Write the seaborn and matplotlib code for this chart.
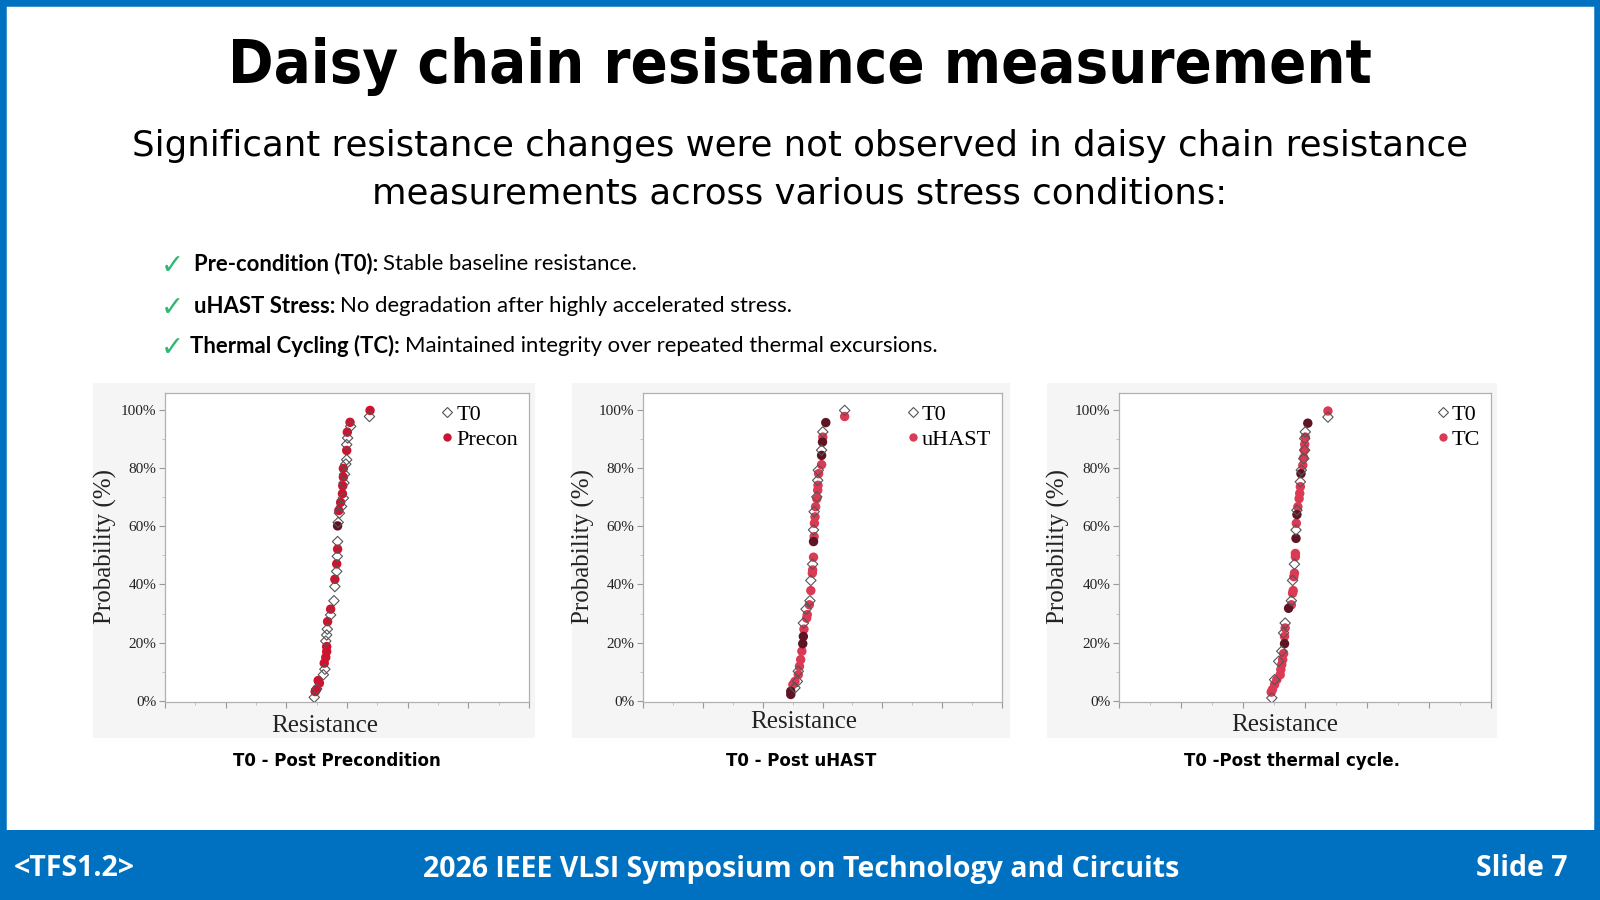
import seaborn as sns
import matplotlib.pyplot as plt
import pandas as pd
from matplotlib.patches import Rectangle
from matplotlib.lines import Line2D
from matplotlib.ticker import MultipleLocator, FuncFormatter

# Panel 1: T0 vs Precon (resistance in arbitrary units, cumulative probability in %)
p1_t0_x = [4.92, 5.00, 5.22, 5.27, 5.30, 5.33, 5.35, 5.46, 5.57, 5.60, 5.66, 5.68, 5.69, 5.71,
           5.75, 5.82, 5.88, 5.90, 5.92, 5.96, 5.99, 5.99, 6.02, 6.12, 6.74]
p1_t0_y = [1.1, 4.0, 8.9, 10.8, 20.5, 22.6, 24.6, 29.5, 34.4, 39.3, 44.5, 49.7, 54.8, 61.4,
           64.6, 66.9, 69.8, 75.0, 78.0, 81.5, 83.0, 88.2, 90.5, 94.5, 97.9]
p1_st_x = [4.95, 5.00, 5.09, 5.05, 5.25, 5.30, 5.33, 5.33, 5.36, 5.46, 5.60, 5.66, 5.69,
           5.73, 5.79, 5.85, 5.86, 5.88, 5.88, 5.99, 6.01, 6.10, 6.76]
p1_st_y = [3.1, 3.9, 6.0, 6.9, 12.9, 14.9, 16.9, 18.6, 27.2, 31.5, 41.8, 47.1, 52.2,
           65.5, 68.3, 71.3, 74.0, 77.0, 80.0, 86.2, 92.5, 95.9, 100.0]
p1_dk_x = [5.69]
p1_dk_y = [60.2]

# Panel 2: T0 vs uHAST
p2_t0_x = [5.08, 5.16, 5.19, 5.36, 5.45, 5.58, 5.61, 5.67, 5.70, 5.72, 5.81, 5.84, 5.86,
           5.97, 6.01, 6.74]
p2_t0_y = [4.4, 6.6, 10.1, 26.7, 31.5, 34.4, 41.4, 47.0, 58.8, 65.1, 70.2, 75.9, 79.4,
           86.3, 92.6, 100.0]
p2_st_x = [5.01, 5.08, 5.19, 5.23, 5.27, 5.31, 5.38, 5.47, 5.49, 5.56, 5.61, 5.66, 5.67,
           5.70, 5.72, 5.73, 5.75, 5.77, 5.81, 5.84, 5.85, 5.87, 5.97, 6.01, 6.74]
p2_st_y = [5.5, 6.6, 8.9, 11.8, 14.1, 17.0, 24.6, 28.4, 29.6, 33.0, 37.9, 43.9, 45.0,
           49.4, 56.5, 61.1, 63.3, 66.8, 69.6, 72.5, 74.2, 78.2, 81.3, 90.8, 97.9]
p2_dk_x = [4.94, 4.94, 5.34, 5.36, 5.70, 5.97, 6.00, 6.11]
p2_dk_y = [2.1, 3.2, 19.6, 22.1, 54.8, 84.5, 89.1, 95.8]

# Panel 3: T0 vs TC
p3_t0_x = [4.93, 5.02, 5.15, 5.25, 5.31, 5.36, 5.56, 5.60, 5.66, 5.71, 5.74, 5.85, 5.88,
           5.96, 5.99, 5.99, 6.01, 6.74]
p3_t0_y = [0.9, 7.2, 13.5, 17.0, 23.3, 26.7, 34.4, 41.4, 47.0, 58.8, 65.6, 75.4, 79.4,
           83.4, 86.3, 90.3, 92.6, 97.7]
p3_st_x = [4.91, 4.95, 5.02, 5.09, 5.20, 5.22, 5.25, 5.28, 5.31, 5.34, 5.36, 5.56, 5.60,
           5.62, 5.64, 5.66, 5.69, 5.69, 5.72, 5.77, 5.81, 5.83, 5.85, 5.93, 5.96, 5.98,
           5.99, 6.01, 6.74]
p3_st_y = [2.9, 3.8, 5.5, 7.2, 8.9, 10.7, 12.4, 14.1, 16.2, 22.1, 25.0, 33.0, 37.0,
           37.9, 42.7, 43.9, 49.6, 50.7, 61.1, 66.8, 69.6, 71.4, 73.7, 81.1, 83.7, 86.3,
           88.3, 90.8, 99.8]
p3_dk_x = [5.34, 5.47, 5.71, 5.74, 5.87, 6.09]
p3_dk_y = [19.6, 31.8, 55.9, 64.1, 78.2, 95.6]

stress_names = ['Precon', 'uHAST', 'TC']
captions = ['T0 - Post Precondition', 'T0 - Post uHAST', 'T0 -Post thermal cycle.']
bullets = [('Pre-condition (T0):', 'Stable baseline resistance.'),
           ('uHAST Stress:', 'No degradation after highly accelerated stress.'),
           ('Thermal Cycling (TC):', 'Maintained integrity over repeated thermal excursions.')]

BLUE = '#0070C0'
RED1 = '#CC1430'
RED2 = '#DB3A55'
DARK = '#5E1422'
W, H = 1600, 900


def fx(px):
    return px / W


def fy(py):
    return 1 - py / H


sns.set_style('white')
plt.rcParams['text.color'] = 'black'
fig = plt.figure(figsize=(16, 9), dpi=100)
fig.patch.set_facecolor('white')

# slide frame and footer
fig.patches.append(Rectangle((0, 0), 1, 1, transform=fig.transFigure, fill=False,
                             edgecolor=BLUE, linewidth=9, zorder=0))
fig.patches.append(Rectangle((0, 0), 1, fy(830), transform=fig.transFigure,
                             facecolor=BLUE, edgecolor='none', zorder=1))
fig.text(fx(14), fy(869), '<TFS1.2>', color='white', fontsize=20.5, fontweight='bold',
         family='Open Sans', va='center', ha='left')
fig.text(fx(801), fy(869), '2026 IEEE VLSI Symposium on Technology and Circuits',
         color='white', fontsize=20.5, fontweight='bold', family='Open Sans',
         va='center', ha='center')
fig.text(fx(1567), fy(869), 'Slide 7', color='white', fontsize=20.5, fontweight='bold',
         family='Open Sans', va='center', ha='right')

# title and subtitle
fig.text(fx(800), fy(66), 'Daisy chain resistance measurement', fontsize=44,
         fontweight='bold', fontstretch='condensed', family='DejaVu Sans',
         ha='center', va='center')
fig.text(fx(800), fy(146), 'Significant resistance changes were not observed in daisy chain resistance',
         fontsize=25.6, family='DejaVu Sans', ha='center', va='center')
fig.text(fx(800), fy(194), 'measurements across various stress conditions:',
         fontsize=25.6, family='DejaVu Sans', ha='center', va='center')

# bullets with bold lead-in
renderer = fig.canvas.get_renderer()
bullet_y = [264, 306, 346]
bullet_x = [194, 194, 190]
for (lead, rest), by, bx in zip(bullets, bullet_y, bullet_x):
    fig.text(fx(172), fy(by + 2), '\u2713', color='#2EB872', fontsize=20,
             fontweight='bold', family='DejaVu Sans', ha='center', va='center')
    t = fig.text(fx(bx), fy(by), lead, fontsize=15.9, fontweight='bold', family='Lato',
                 ha='left', va='center')
    x1 = t.get_window_extent(renderer).x1
    fig.text((x1 + 5) / W, fy(by), rest, fontsize=15.9, family='Lato', ha='left', va='center')

# panels
panel_bg = [(93, 535), (572, 1010), (1047, 1497)]
panel_ax = [(165, 529), (643, 1002), (1119, 1491)]
xlabel_pos = [(325, 726), (804, 722), (1285, 725)]
ylabel_x = [105, 583, 1058]
caption_x = [337, 801, 1292]
t0_data = [(p1_t0_x, p1_t0_y), (p2_t0_x, p2_t0_y), (p3_t0_x, p3_t0_y)]
st_data = [(p1_st_x, p1_st_y), (p2_st_x, p2_st_y), (p3_st_x, p3_st_y)]
dk_data = [(p1_dk_x, p1_dk_y), (p2_dk_x, p2_dk_y), (p3_dk_x, p3_dk_y)]
st_colors = [RED1, RED2, RED2]

serif = 'Liberation Serif'
for i in range(3):
    bl, br = panel_bg[i]
    fig.patches.append(Rectangle((fx(bl), fy(738)), (br - bl) / W, (738 - 383) / H,
                                 transform=fig.transFigure, facecolor='#F5F5F5',
                                 edgecolor='none', zorder=0))
    al, ar = panel_ax[i]
    ax = fig.add_axes([fx(al), fy(702), (ar - al) / W, (702 - 393) / H], zorder=2)
    ax.set_facecolor('white')

    st = pd.DataFrame({'Resistance': st_data[i][0], 'Probability': st_data[i][1]})
    dk = pd.DataFrame({'Resistance': dk_data[i][0], 'Probability': dk_data[i][1]})
    t0 = pd.DataFrame({'Resistance': t0_data[i][0], 'Probability': t0_data[i][1]})
    sns.scatterplot(data=st, x='Resistance', y='Probability', ax=ax, color=st_colors[i],
                    marker='o', s=46, edgecolor='none', zorder=3)
    sns.scatterplot(data=dk, x='Resistance', y='Probability', ax=ax, color=DARK,
                    marker='o', s=46, edgecolor='none', zorder=3)
    sns.scatterplot(data=t0, x='Resistance', y='Probability', ax=ax, marker='D', s=28,
                    facecolor='none', edgecolor='#555555', linewidth=0.8, zorder=4)

    ax.set_xlim(0, 12)
    ax.set_ylim(-0.5, 106)
    ax.yaxis.set_major_locator(MultipleLocator(20))
    ax.yaxis.set_minor_locator(MultipleLocator(10))
    ax.yaxis.set_major_formatter(FuncFormatter(lambda v, p: f'{v:.0f}%'))
    ax.xaxis.set_major_locator(MultipleLocator(2))
    ax.xaxis.set_minor_locator(MultipleLocator(1))
    ax.set_xticklabels([])
    ax.tick_params(axis='both', which='major', direction='out', length=4, width=0.8,
                   color='#999999', bottom=True, left=True)
    ax.tick_params(axis='both', which='minor', direction='out', length=2.5, width=0.6,
                   color='#BBBBBB', bottom=True, left=True)
    ax.tick_params(axis='y', labelsize=11, pad=2)
    for lab in ax.get_yticklabels():
        lab.set_family(serif)
        lab.set_color('#222222')
    for sp in ax.spines.values():
        sp.set_color('#B0B0B0')
        sp.set_linewidth(0.9)
    ax.set_xlabel('')
    ax.set_ylabel('')

    fig.text(fx(xlabel_pos[i][0]), fy(xlabel_pos[i][1]), 'Resistance', family=serif,
             fontsize=18, ha='center', va='center', color='#222222')
    fig.text(fx(ylabel_x[i]), fy(547), 'Probability (%)', family=serif, fontsize=18,
             rotation=90, ha='center', va='center', color='#222222')

    handles = [Line2D([], [], marker='D', linestyle='none', markersize=5,
                      markerfacecolor='none', markeredgecolor='#555555', markeredgewidth=0.8),
               Line2D([], [], marker='o', linestyle='none', markersize=6,
                      markerfacecolor=st_colors[i], markeredgecolor='none')]
    ax.legend(handles, ['T0', stress_names[i]], loc='upper right', frameon=False,
              handlelength=0.5, handletextpad=0.15, borderaxespad=0.1,
              labelspacing=0.2, prop={'family': serif, 'size': 16})
    fig.text(fx(caption_x[i]), fy(761), captions[i], fontsize=12, fontweight='bold',
             family='DejaVu Sans', ha='center', va='center')

fig.savefig('out.png', dpi=100)
